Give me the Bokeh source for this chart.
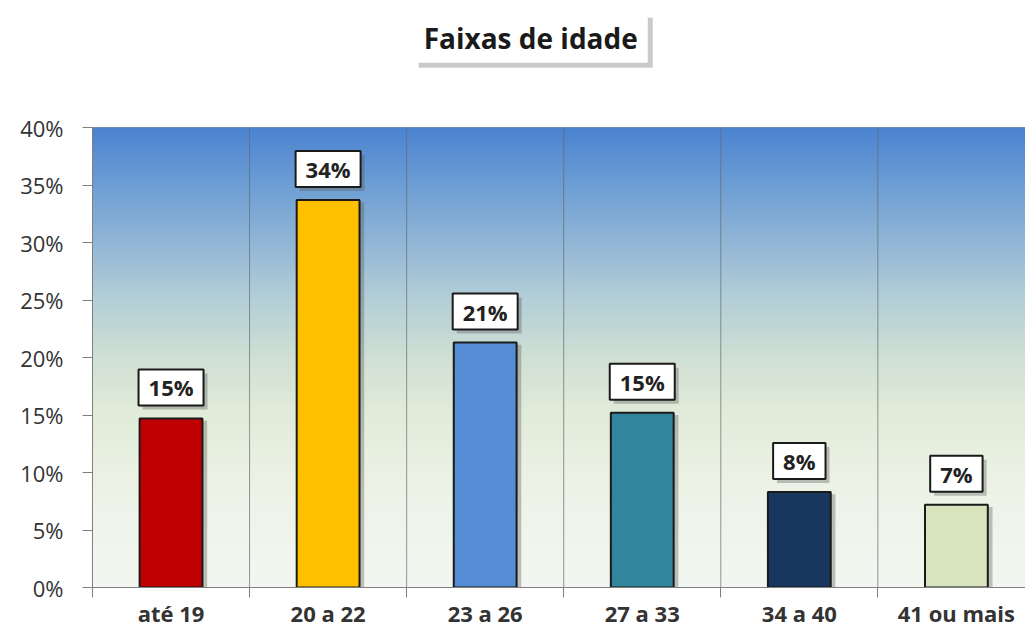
import numpy as np
from bokeh.plotting import figure
from bokeh.models import (Range1d, FixedTicker, NumeralTickFormatter, LinearAxis,
                          ColumnDataSource, Label, Grid)
from bokeh.embed import file_html
from bokeh.resources import INLINE

categories = ["até 19", "20 a 22", "23 a 26", "27 a 33", "34 a 40", "41 ou mais"]
values = [0.147, 0.337, 0.213, 0.152, 0.083, 0.072]
colors = ["#C00000", "#FFC000", "#558ED5", "#31859C", "#17375E", "#D7E4BD"]
y_ticks = [0, 0.05, 0.10, 0.15, 0.20, 0.25, 0.30, 0.35, 0.40]
title_text = "Faixas de idade"

centers = [i + 0.5 for i in range(len(categories))]
boundaries = list(range(len(categories) + 1))
y_max = y_ticks[-1]

W, H = 1025, 637
p = figure(width=W, height=H, output_backend="svg", toolbar_location=None,
           x_range=Range1d(0, 5.94), y_range=Range1d(0, 0.50),
           min_border_left=92, min_border_right=0, min_border_top=12,
           min_border_bottom=50, x_axis_type=None, y_axis_type=None)
p.outline_line_color = None
p.background_fill_color = "white"
p.border_fill_color = "white"

# gradient background of the plot area
stops_y = [0.0, 0.05, 0.10, 0.15, 0.20, 0.25, 0.30, 0.35, 0.40]
stops_c = ["#f4f7f1", "#f0f5ec", "#ebf2e4", "#e2ecda", "#d0e0d4", "#b4cfd8",
           "#92b6d6", "#6e9fd4", "#4c83cf"]
def hex2rgb(h):
    return [int(h[i:i + 2], 16) for i in (1, 3, 5)]
N = 200
ys = np.linspace(0, y_max, N)
rgb = np.array([hex2rgb(c) for c in stops_c], dtype=float)
img = np.zeros((N, 1), dtype=np.uint32)
view = img.view(dtype=np.uint8).reshape((N, 1, 4))
for ch in range(3):
    view[:, 0, ch] = np.interp(ys, stops_y, rgb[:, ch]).astype(np.uint8)
view[:, 0, 3] = 255
p.image_rgba(image=[img], x=0, y=0, dw=len(categories), dh=y_max)

# grid lines
g = Grid(dimension=1, ticker=FixedTicker(ticks=y_ticks))
g.grid_line_color = "#5f6b73"
g.grid_line_alpha = 0.7
g.grid_line_width = 1
p.add_layout(g, "center")
p.segment(x0=boundaries, y0=[0] * len(boundaries), x1=boundaries,
          y1=[y_max] * len(boundaries), line_color="#5f6b73", line_alpha=0.7,
          line_width=1)

# axes
yax = LinearAxis(ticker=FixedTicker(ticks=y_ticks),
                 formatter=NumeralTickFormatter(format="0%"), bounds=(0, y_max))
yax.axis_line_color = "#7f7f7f"
yax.major_tick_line_color = "#7f7f7f"
yax.major_tick_out = 10
yax.major_tick_in = 0
yax.minor_tick_line_color = None
yax.major_label_text_font = "Open Sans"
yax.major_label_text_font_size = "22px"
yax.major_label_text_color = "#333333"
yax.major_label_standoff = 19
p.add_layout(yax, "left")

xax = LinearAxis(ticker=FixedTicker(ticks=centers, minor_ticks=boundaries),
                 major_label_overrides={c: n for c, n in zip(centers, categories)})
xax.axis_line_color = "#7f7f7f"
xax.major_tick_line_color = None
xax.major_tick_out = 0
xax.major_tick_in = 0
xax.minor_tick_line_color = "#7f7f7f"
xax.minor_tick_out = 10
xax.minor_tick_in = 0
xax.major_label_text_font = "Open Sans"
xax.major_label_text_font_style = "bold"
xax.major_label_text_font_size = "22px"
xax.major_label_text_color = "#333333"
xax.major_label_standoff = 0
p.add_layout(xax, "below")

# bar shadows and bars
src = ColumnDataSource(dict(x=centers, top=values, color=colors,
                            sx=[c + 0.03 for c in centers],
                            stop=[v - 0.002 for v in values]))
p.vbar(x="sx", top="stop", width=0.40, bottom=-0.004, source=src,
       fill_color="#555555", fill_alpha=0.35, line_color=None)
p.vbar(x="x", top="top", width=0.40, source=src, fill_color="color",
       line_color="#1a1a1a", line_width=2)

# value labels with shadow boxes
for c, v in zip(centers, values):
    txt = f"{round(v * 100)}%"
    p.add_layout(Label(x=c, y=v, x_offset=4, y_offset=9, text=txt,
                       text_align="center", text_baseline="bottom", text_font="Open Sans",
                       text_font_style="bold", text_font_size="22px",
                       text_color="#888888", text_alpha=0.02,
                       background_fill_color="#555555", background_fill_alpha=0.35,
                       padding=(10, 3)))
    p.add_layout(Label(x=c, y=v, y_offset=13, text=txt,
                       text_align="center", text_baseline="bottom", text_font="Open Sans",
                       text_font_style="bold", text_font_size="22px", text_color="#222222",
                       background_fill_color="white", border_line_color="#1a1a1a",
                       border_line_width=2, padding=(10, 3)))

# title box with shadow
p.add_layout(Label(x=2.79, y=0.478, x_offset=5, y_offset=-5, text=title_text,
                   text_align="center", text_baseline="middle", text_font="Open Sans",
                   text_font_style="bold", text_font_size="28px",
                   text_color="#888888", text_alpha=0.02,
                   background_fill_color="#666666", background_fill_alpha=0.35,
                   padding=(10, 6)))
p.add_layout(Label(x=2.79, y=0.478, text=title_text,
                   text_align="center", text_baseline="middle", text_font="Open Sans",
                   text_font_style="bold", text_font_size="28px", text_color="#1a1a1a",
                   background_fill_color="white", padding=(10, 6)))

open("out.html", "w").write(file_html(p, INLINE))
